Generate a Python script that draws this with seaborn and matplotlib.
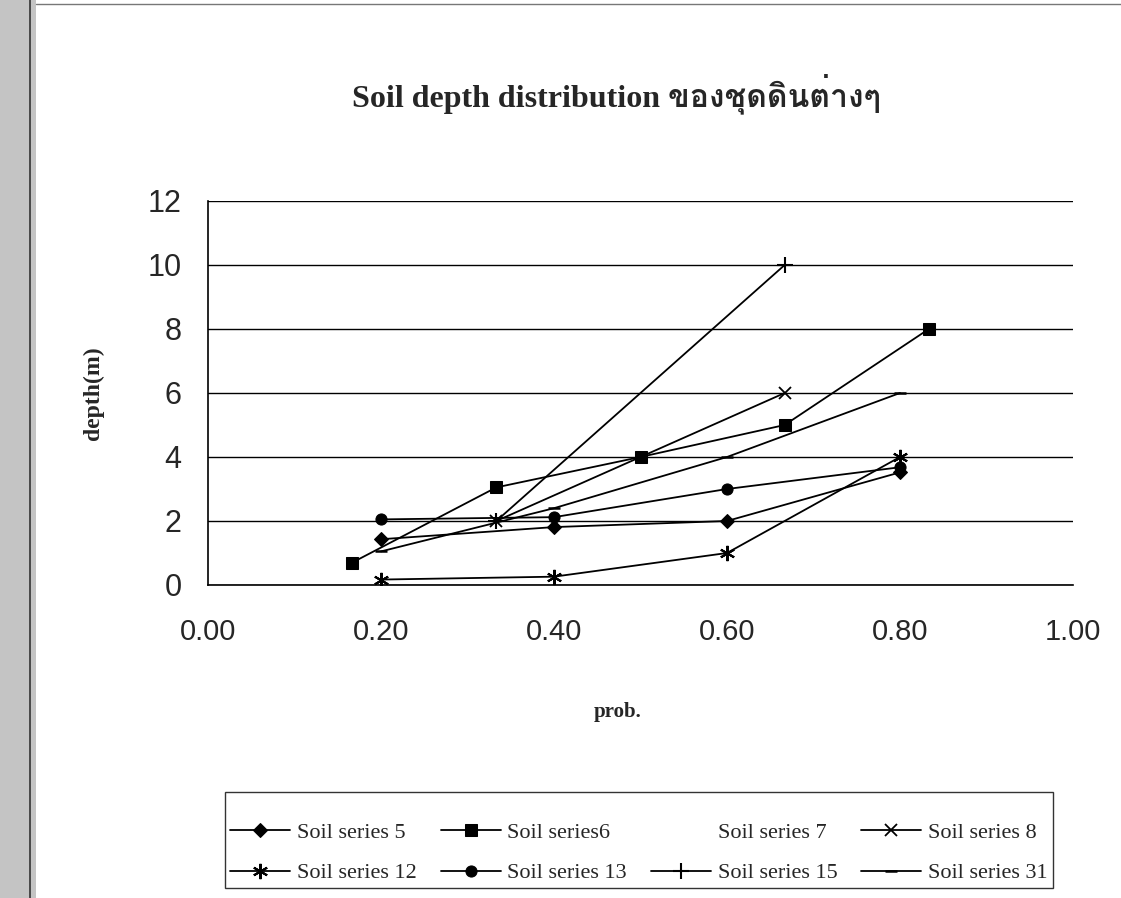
import matplotlib
matplotlib.use("Agg")
import matplotlib.pyplot as plt
import seaborn as sns
from matplotlib import font_manager
from matplotlib.patches import Rectangle
from matplotlib.lines import Line2D

# ---------------- data ----------------
title_text = "Soil depth distribution ของชุดดินต่างๆ"
x_label = "prob."
y_label = "depth(m)"

s5_name, s5_x, s5_y = "Soil series 5", [0.2, 0.4, 0.6, 0.8], [1.43, 1.81, 2.0, 3.52]
s6_name, s6_x, s6_y = "Soil series6", [1/6, 2/6, 3/6, 4/6, 5/6], [0.7, 3.05, 4.0, 5.0, 8.0]
s7_name, s7_x, s7_y = "Soil series 7", [], []
s8_name, s8_x, s8_y = "Soil series 8", [1/3, 2/3], [2.0, 6.0]
s12_name, s12_x, s12_y = "Soil series 12", [0.2, 0.4, 0.6, 0.8], [0.17, 0.26, 1.0, 4.0]
s13_name, s13_x, s13_y = "Soil series 13", [0.2, 0.4, 0.6, 0.8], [2.05, 2.12, 3.0, 3.68]
s15_name, s15_x, s15_y = "Soil series 15", [1/3, 2/3], [2.0, 10.0]
s31_name, s31_x, s31_y = "Soil series 31", [0.2, 0.4, 0.6, 0.8], [1.05, 2.4, 4.0, 6.0]

x_ticks = [0.0, 0.2, 0.4, 0.6, 0.8, 1.0]
x_tick_labels = ["0.00", "0.20", "0.40", "0.60", "0.80", "1.00"]
y_ticks = [0, 2, 4, 6, 8, 10, 12]

# ---------------- fonts ----------------
sns.set_style("white")

thai_family = None
try:
    from fontTools.ttLib import TTFont
    for f in font_manager.fontManager.ttflist:
        try:
            tt = TTFont(f.fname, fontNumber=0, lazy=True)
            cm = tt.getBestCmap()
            if cm and 0x0E02 in cm and 0x0E14 in cm:
                thai_family = f.name
                break
        except Exception:
            pass
except Exception:
    pass

serif_fams = ["Liberation Serif"] + ([thai_family] if thai_family else []) + ["DejaVu Serif", "DejaVu Sans"]
sans_fams = ["Liberation Sans", "DejaVu Sans"]
plt.rcParams["font.family"] = serif_fams

# ---------------- figure ----------------
W, H = 1121, 898
fig = plt.figure(figsize=(W / 100, H / 100), dpi=100)
fig.patch.set_facecolor("white")

# scanned binding stripe on the left
fig.patches.append(Rectangle((0, 0), 36 / W, 1, transform=fig.transFigure,
                             facecolor="#c4c4c4", edgecolor="none", zorder=0))
fig.lines.append(Line2D([30 / W, 30 / W], [0, 1], transform=fig.transFigure,
                        color="#333333", lw=1.2))
fig.lines.append(Line2D([36 / W, 1], [1 - 4 / H, 1 - 4 / H], transform=fig.transFigure,
                        color="#777777", lw=1.0))

left, right, top, bottom = 208, 1073, 201, 585
ax = fig.add_axes([left / W, 1 - bottom / H, (right - left) / W, (bottom - top) / H])

lw = 1.3
series = [
    (s5_name, s5_x, s5_y, dict(marker="D", markersize=7)),
    (s6_name, s6_x, s6_y, dict(marker="s", markersize=8)),
    (s8_name, s8_x, s8_y, dict(marker="x", markersize=9, markeredgewidth=1.3)),
    (s12_name, s12_x, s12_y, dict(marker=(6, 2, 0), markersize=11, markeredgewidth=1.5)),
    (s13_name, s13_x, s13_y, dict(marker="o", markersize=8)),
    (s15_name, s15_x, s15_y, dict(marker="+", markersize=11, markeredgewidth=1.5)),
    (s31_name, s31_x, s31_y, dict(marker="_", markersize=8, markeredgewidth=1.8)),
]
handles = {}
for name, xs, ys, mk in series:
    sns.lineplot(x=xs, y=ys, ax=ax, color="black", linewidth=lw, label=name,
                 markeredgecolor="black", markerfacecolor="black", **mk)
    handles[name] = ax.get_lines()[-1]
# series 7: no visible line or marker
h7, = ax.plot(s7_x, s7_y, linestyle="none", marker="", label=s7_name)
handles[s7_name] = h7
if ax.get_legend() is not None:
    ax.get_legend().remove()

ax.set_xlim(0, 1.0)
ax.set_ylim(0, 12)
ax.set_xticks(x_ticks)
ax.set_xticklabels(x_tick_labels)
ax.set_yticks(y_ticks)
ax.yaxis.grid(True, color="black", linewidth=1.0)
ax.xaxis.grid(False)
ax.set_axisbelow(True)
for s in ["top", "right"]:
    ax.spines[s].set_visible(False)
for s in ["left", "bottom"]:
    ax.spines[s].set_visible(True)
    ax.spines[s].set_color("black")
    ax.spines[s].set_linewidth(1.2)
ax.tick_params(axis="x", direction="out", length=8, width=1.2, color="black", pad=16,
               labelsize=21)
ax.tick_params(axis="y", direction="out", length=9, width=1.2, color="black", pad=10,
               labelsize=22)
for t in ax.get_xticklabels() + ax.get_yticklabels():
    t.set_fontfamily(sans_fams)

ax.set_xlabel(x_label, fontsize=15, fontweight="bold")
ax.xaxis.set_label_coords((618 - left) / (right - left), -(702 - bottom) / (bottom - top))
ax.set_ylabel(y_label, fontsize=17, fontweight="bold")
ax.yaxis.set_label_coords(-(208 - 104) / (right - left), 0.5)

fig.text(616 / W, 1 - 94 / H, title_text, ha="center", va="center",
         fontsize=23, fontweight="bold", family=serif_fams)

order = [s5_name, s12_name, s6_name, s13_name, s7_name, s15_name, s8_name, s31_name]
leg = fig.legend([handles[n] for n in order], order, loc="center",
                 bbox_to_anchor=(639 / W, 1 - 840 / H), ncol=4, frameon=True,
                 fancybox=False, edgecolor="black", fontsize=16,
                 title=" ", title_fontsize=5,
                 handlelength=2.7, handletextpad=0.3, columnspacing=1.08,
                 labelspacing=0.92, borderpad=0.22)
leg.get_frame().set_linewidth(1.0)
for t in leg.get_texts():
    t.set_fontfamily(serif_fams)

fig.savefig("out.png", dpi=100, facecolor="white")
